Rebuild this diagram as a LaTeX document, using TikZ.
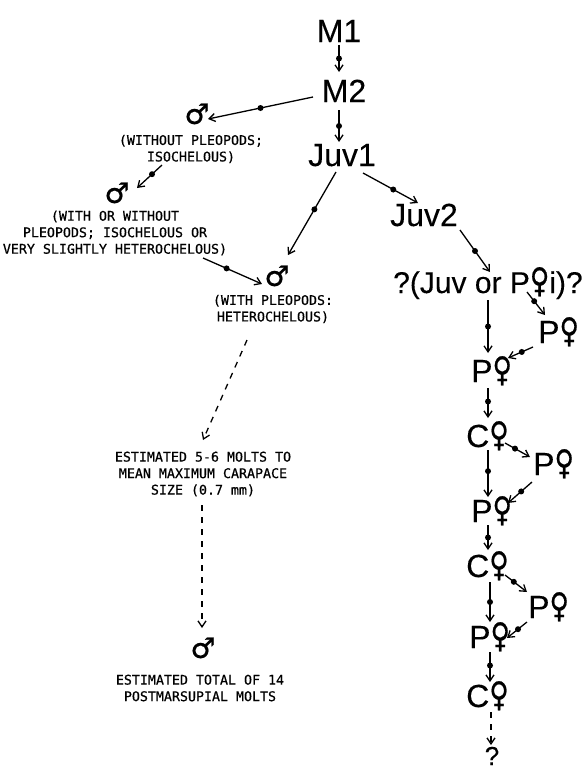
\documentclass[tikz,border=0pt]{standalone}
\usepackage{fontspec}
\setmainfont[FakeBold=0.15]{Liberation Sans}
\newfontfamily\labmono[FakeBold=0.6]{DejaVu Sans Mono}
\newfontfamily\symfam[FakeBold=0.7]{DejaVu Sans}
\usetikzlibrary{arrows.meta,calc}
\newcommand{\femsym}{\raisebox{1pt}{\scalebox{0.78}[1]{\symfam\fontsize{34}{34}\selectfont ♀}}}
\newcommand{\malesym}{{\symfam\fontsize{28}{28}\selectfont ♂}}
\tikzset{
  big/.style={font=\fontsize{32}{32}\selectfont, inner sep=1pt},
  bigq/.style={font=\fontsize{30}{30}\selectfont, inner sep=1pt},
  endq/.style={font=\fontsize{26}{26}\selectfont, inner sep=0pt},
  lab/.style={font=\labmono\fontsize{13.3}{16.5}\selectfont, align=center, inner sep=0pt},
  msym/.style={inner sep=0pt},
  molt/.style={line width=1.3pt, -{Straight Barb[length=6pt,width=8pt]}},
  dashline/.style={line width=1.3pt, dash pattern=on 6pt off 6pt, -{Straight Barb[length=6pt,width=8pt]}},
  mdot/.style={circle, fill=black, inner sep=0pt, minimum size=6pt}
}
\begin{document}
\begin{tikzpicture}[x=1pt,y=-1pt]
\fill[white] (0,0) rectangle (582,769);
\useasboundingbox (0,0) rectangle (582,769);

% main text nodes
\node[big, anchor=base] (M1) at (339,42) {M1};
\node[big, anchor=base] (M2) at (344,102) {M2};
\node[big, anchor=base] (Juv1) at (342,166) {Juv1};
\node[big, anchor=base] (Juv2) at (424,226) {Juv2};
\node[bigq, anchor=base west] (Q) at (392,293) {?(Juv or P\femsym i)?};
\node[big, anchor=base west] (P1) at (470,382) {P\femsym};
\node[big, anchor=base west] (Pa) at (537,343) {P\femsym};
\node[big, anchor=base west] (C1) at (465,447) {C\femsym};
\node[big, anchor=base west] (Pb) at (532,475) {P\femsym};
\node[big, anchor=base west] (P2) at (470,522) {P\femsym};
\node[big, anchor=base west] (C2) at (465,577) {C\femsym};
\node[big, anchor=base west] (Pc) at (527,618) {P\femsym};
\node[big, anchor=base west] (P3) at (468,648) {P\femsym};
\node[big, anchor=base west] (C3) at (465,707) {C\femsym};
\node[endq, anchor=base] (End) at (492,765) {?};

% male symbols
\node[msym] (m1) at (197,114) {\malesym};
\node[msym] (m2) at (117,193) {\malesym};
\node[msym] (m3) at (277,276) {\malesym};
\node[msym] (m4) at (203,648) {\malesym};

% labels
\node[lab] (L1) at (191,149) {(WITHOUT PLEOPODS;\\ISOCHELOUS)};
\node[lab] (L2) at (115,233) {(WITH OR WITHOUT\\PLEOPODS; ISOCHELOUS OR\\VERY SLIGHTLY HETEROCHELOUS)};
\node[lab] (L3) at (273,309) {(WITH PLEOPODS:\\HETEROCHELOUS)};
\node[lab] (L4) at (203,474) {ESTIMATED 5-6 MOLTS TO\\MEAN MAXIMUM CARAPACE\\SIZE (0.7 mm)};
\node[lab] (L5) at (200,688) {ESTIMATED TOTAL OF 14\\POSTMARSUPIAL MOLTS};

% connectors
\draw[molt] ($(M1.base)+(0,3)$) -- node[mdot]{} ($(M2.base)+(-5,-30)$);
\draw[molt] ($(M2.base)+(-5,8)$) -- node[mdot]{} ($(Juv1.base)+(-3,-24)$);
\draw[molt] ($(M2.base)+(-31,-5)$) -- node[mdot]{} ($(m1.center)+(11,5)$);
\draw[molt] ($(L1.center)+(-29,16)$) -- node[mdot, pos=0.4]{} ($(m2.center)+(20,-5)$);
\draw[molt] ($(L2.center)+(88,25)$) -- node[mdot, pos=0.4]{} ($(m3.center)+(-15,8)$);
\draw[molt] ($(Juv1.base)+(-6,6)$) -- node[mdot, pos=0.45]{} ($(m3.center)+(11,-21)$);
\draw[dashline] ($(L3.center)+(-26,31)$) -- ($(L4.center)+(0,-34)$);
\draw[dashline] ($(L4.center)+(-1,31)$) -- ($(m4.center)+(-1,-20)$);

\draw[molt] ($(Juv1.base)+(21,7)$) -- node[mdot, pos=0.55]{} ($(Juv2.base)+(-6,-23)$);
\draw[molt] ($(Juv2.base)+(36,4)$) -- node[mdot]{} ($(Q.base west)+(98,-21)$);
\draw[molt] ($(Q.base west)+(96,7)$) -- node[mdot]{} ($(P1.base west)+(18,-29)$);
\draw[molt] ($(Q.base west)+(135,-1)$) -- node[mdot, pos=0.4]{} ($(Pa.base west)+(8,-28)$);
\draw[molt] ($(Pa.base west)+(-4,4)$) -- node[mdot, pos=0.45]{} ($(P1.base west)+(38,-24)$);
\draw[molt] ($(P1.base west)+(18,6)$) -- node[mdot, pos=0.45]{} ($(C1.base west)+(23,-29)$);
\draw[molt] ($(C1.base west)+(40,-4)$) -- node[mdot, pos=0.4]{} ($(Pb.base west)+(-2,-18)$);
\draw[molt] ($(C1.base west)+(23,3)$) -- node[mdot, pos=0.45]{} ($(P2.base west)+(18,-25)$);
\draw[molt] ($(Pb.base west)+(0,7)$) -- node[mdot, pos=0.45]{} ($(P2.base west)+(38,-19)$);
\draw[molt] ($(P2.base west)+(18,3)$) -- node[mdot, pos=0.5]{} ($(C2.base west)+(23,-27)$);
\draw[molt] ($(C2.base west)+(40,-2)$) -- node[mdot, pos=0.4]{} ($(Pc.base west)+(0,-26)$);
\draw[molt] ($(C2.base west)+(25,5)$) -- node[mdot, pos=0.5]{} ($(P3.base west)+(22,-26)$);
\draw[molt] ($(Pc.base west)+(0,4)$) -- node[mdot, pos=0.45]{} ($(P3.base west)+(39,-10)$);
\draw[molt] ($(P3.base west)+(22,4)$) -- node[mdot, pos=0.45]{} ($(C3.base west)+(25,-25)$);
\draw[dashline] ($(C3.base west)+(26,5)$) -- ($(End.base)+(-1,-20)$);
\end{tikzpicture}
\end{document}
